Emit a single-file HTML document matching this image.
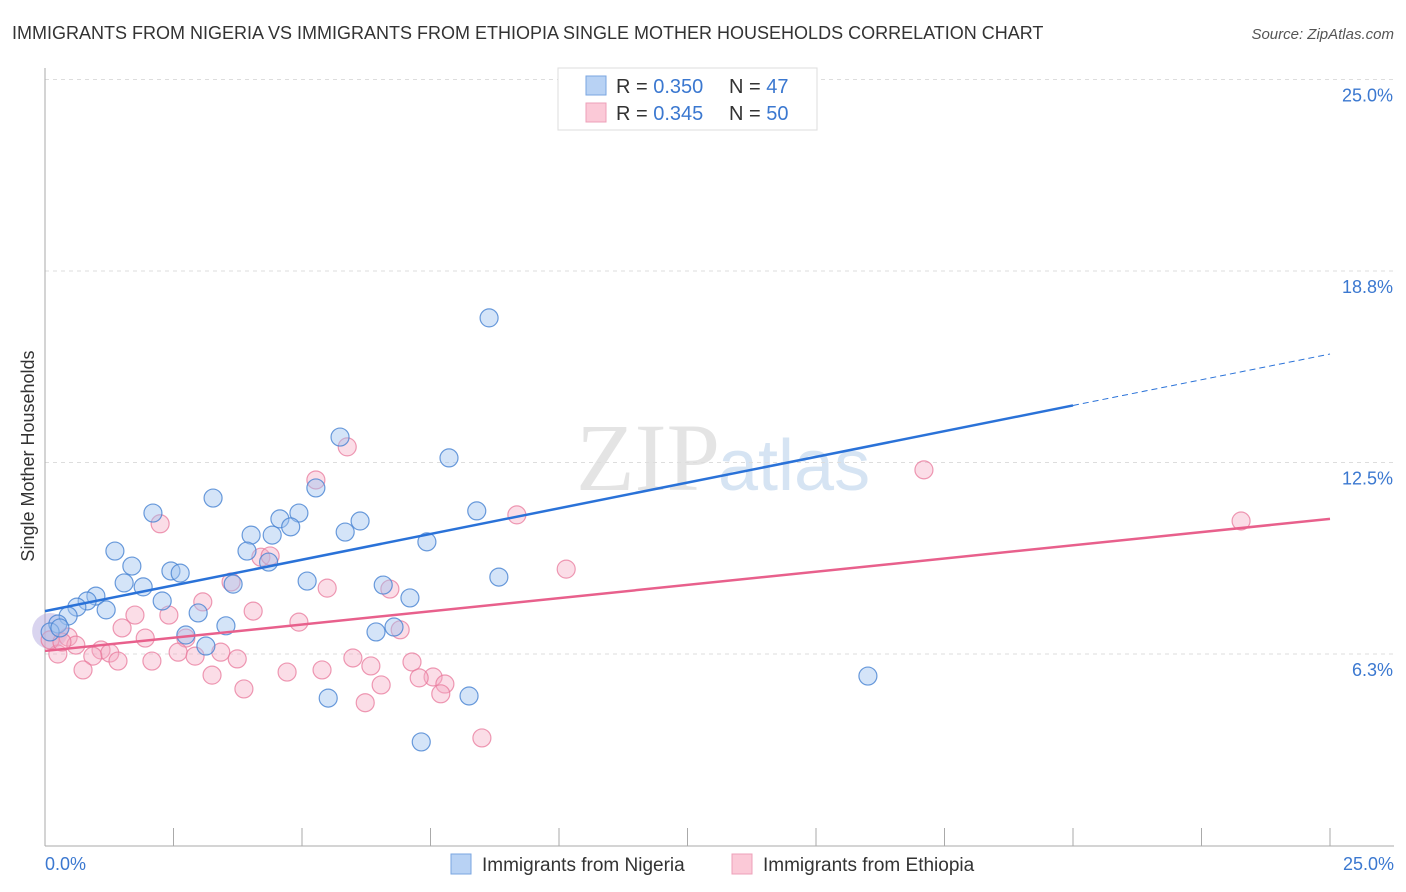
<!DOCTYPE html>
<html><head><meta charset="utf-8"><style>
body{margin:0;background:#fff;font-family:"Liberation Sans",sans-serif}
svg{display:block}
</style></head><body>
<svg id="chart" width="1406" height="892" xmlns="http://www.w3.org/2000/svg">
<text x="12" y="39" font-size="18" fill="#333">IMMIGRANTS FROM NIGERIA VS IMMIGRANTS FROM ETHIOPIA SINGLE MOTHER HOUSEHOLDS CORRELATION CHART</text>
<text x="1394" y="39" font-size="15" fill="#555" font-style="italic" text-anchor="end">Source: ZipAtlas.com</text>
<text x="720" y="490" font-size="96" fill="#e4e4e4" text-anchor="end" font-family="Liberation Serif">ZIP</text>
<text x="718" y="490" font-size="72" fill="#d6e4f3">atlas</text>
<g id="grid"></g>
<g id="axes"></g>
<g id="marks"></g>
<text transform="translate(34,456) rotate(-90)" font-size="18" fill="#333" text-anchor="middle">Single Mother Households</text>
<text x="45" y="870" font-size="18" fill="#3b78d0">0.0%</text>
<text x="1394" y="870" font-size="18" fill="#3b78d0" text-anchor="end">25.0%</text>
<g>
<rect x="558" y="68" width="259" height="62" fill="#fff" stroke="#ddd"/>
<rect x="586" y="76" width="20" height="19" fill="#b8d2f4" stroke="#7aa6e0"/>
<rect x="586" y="103" width="20" height="19" fill="#fbc9d7" stroke="#eea0b8"/>
<text x="616" y="93" font-size="20" fill="#333">R = <tspan fill="#3b78d0">0.350</tspan><tspan x="729">N = </tspan><tspan fill="#3b78d0">47</tspan></text>
<text x="616" y="120" font-size="20" fill="#333">R = <tspan fill="#3b78d0">0.345</tspan><tspan x="729">N = </tspan><tspan fill="#3b78d0">50</tspan></text>
</g>
<g><rect x="451" y="854" width="20" height="20" fill="#b8d2f4" stroke="#7aa6e0"/><text x="482" y="871" font-size="19" fill="#333">Immigrants from Nigeria</text></g>
<g><rect x="732" y="854" width="20" height="20" fill="#fbc9d7" stroke="#eea0b8"/><text x="763" y="871" font-size="19" fill="#333">Immigrants from Ethiopia</text></g>
</svg>
<script>
const yTicks=[6.25,12.5,18.75,25];
const yTickLabels=["6.3%","12.5%","18.8%","25.0%"];
const nigeriaX=[8.64,5.74,7.86,3.27,2.10,5.27,4.94,4.57,4.78,6.13,5.84,4.01,4.42,8.40,7.43,1.36,3.93,4.35,1.69,2.45,2.63,8.83,1.54,1.91,3.66,5.10,6.58,0.99,0.82,7.10,2.28,1.19,0.62,2.98,0.45,0.25,3.52,2.74,6.44,6.79,3.13,16.01,8.25,5.51,7.32,0.10,0.29];
const nigeriaY=[17.22,13.33,12.65,11.34,10.85,11.67,10.85,10.66,10.40,10.59,10.23,10.13,10.13,10.92,9.91,9.61,9.61,9.25,9.12,8.96,8.89,8.76,8.57,8.44,8.53,8.63,8.50,8.14,7.98,8.08,7.98,7.69,7.78,7.59,7.49,7.23,7.17,6.87,6.97,7.13,6.51,5.53,4.88,4.81,3.38,6.97,7.10];
const ethiopiaX=[5.88,5.27,17.10,2.24,9.18,23.27,4.20,4.38,10.14,3.62,5.49,6.71,3.07,1.75,4.05,2.41,1.50,4.94,6.91,1.95,2.74,0.45,0.60,1.09,1.26,3.42,2.59,0.93,2.92,1.42,2.08,3.74,5.99,7.14,0.25,0.74,5.39,4.71,6.34,3.25,7.55,7.28,7.78,6.54,3.87,7.70,6.23,8.50,0.10,0.33];
const ethiopiaY=[13.01,11.93,12.26,10.50,10.79,10.59,9.41,9.45,9.02,8.60,8.40,8.37,7.95,7.52,7.65,7.52,7.10,7.29,7.04,6.77,6.77,6.80,6.54,6.38,6.28,6.31,6.31,6.18,6.18,6.02,6.02,6.09,6.12,5.99,6.25,5.73,5.73,5.66,5.86,5.56,5.50,5.47,5.27,5.24,5.11,4.95,4.66,3.51,6.71,6.64];
const nigeriaTrend=[7.65,16.04];
const ethiopiaTrend=[6.35,10.66];
const xMax=25,yMax=25;
const X=v=>45+v/xMax*1285;
const Y=v=>845.5-v/6.25*191.5;
const NS="http://www.w3.org/2000/svg";
function mk(tag,attrs,parent){const e=document.createElementNS(NS,tag);for(const k in attrs)e.setAttribute(k,attrs[k]);parent.appendChild(e);return e;}
const grid=document.getElementById('grid'),axes=document.getElementById('axes'),marks=document.getElementById('marks');
yTicks.forEach((t,i)=>{
  const l=mk('line',{x1:45,x2:1394,y1:Y(t),y2:Y(t),stroke:'#ddd','stroke-dasharray':'4,4'},grid);
  
  
  const tx=mk('text',{x:1393,y:Y(t)+22,'font-size':18,fill:'#3b78d0','text-anchor':'end'},grid);
  tx.textContent=yTickLabels[i];
  
  
});
const ax=mk('line',{x1:45,x2:45,y1:68,y2:846,stroke:'#aaa'},axes);


const bx=mk('line',{x1:45,x2:1394,y1:846,y2:846,stroke:'#aaa'},axes);


for(let i=1;i<=10;i++){
  const t=mk('line',{x1:X(i*2.5),x2:X(i*2.5),y1:828,y2:846,stroke:'#aaa'},axes);
  
  
}
const big=mk('circle',{cx:X(0.1),cy:Y(7.0),r:18,fill:'rgba(170,160,220,0.45)',stroke:'none'},marks);


function pts(xs,ys,fill,stroke,name){
  xs.forEach((v,i)=>{
    const c=mk('circle',{cx:X(v),cy:Y(ys[i]),r:9,fill:fill,stroke:stroke,'stroke-width':1.2},marks);
    
    
  });
}
pts(ethiopiaX,ethiopiaY,'rgba(246,170,195,0.4)','rgba(232,120,155,0.75)','ethiopia-point');
pts(nigeriaX,nigeriaY,'rgba(160,195,240,0.45)','rgba(70,130,210,0.8)','nigeria-point');
const bs=X(0),be=X(20),bend=X(25);
const byAt=v=>Y(nigeriaTrend[0]+(nigeriaTrend[1]-nigeriaTrend[0])*v/25);
const l1=mk('line',{x1:bs,y1:byAt(0),x2:be,y2:byAt(20),stroke:'#2a72d8','stroke-width':2.5},marks);


const l2=mk('line',{x1:be,y1:byAt(20),x2:bend,y2:byAt(25),stroke:'#2a72d8','stroke-width':1,'stroke-dasharray':'6,4'},marks);


const l3=mk('line',{x1:X(0),y1:Y(ethiopiaTrend[0]),x2:X(25),y2:Y(ethiopiaTrend[1]),stroke:'#e8608c','stroke-width':2.5},marks);


</script>
</body></html>
